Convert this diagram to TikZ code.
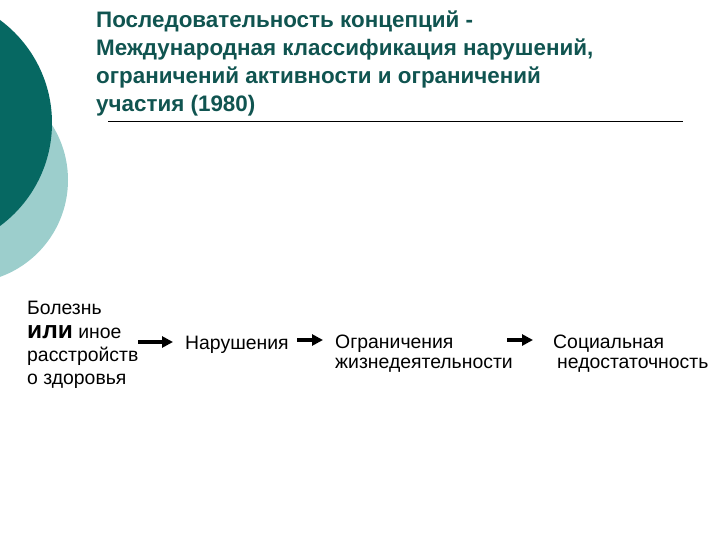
\documentclass[tikz,border=0pt]{standalone}
\usepackage{fontspec}
\setmainfont{Liberation Sans}
\usetikzlibrary{arrows.meta}
\definecolor{titleteal}{RGB}{16,84,80}
\definecolor{darkteal}{RGB}{6,104,98}
\definecolor{lightteal}{RGB}{156,206,204}
\tikzset{
  lbl/.style={inner sep=0pt, anchor=base west, font=\fontsize{19.4}{22}\selectfont},
  flowarrow/.style={line width=3.5pt, -{Triangle[length=11pt,width=11pt]}}
}
\begin{document}
\begin{tikzpicture}[x=1pt,y=-1pt]
  %%%%% background %%%%%
  \useasboundingbox (0,0) rectangle (720,540);
  \fill[lightteal] (-35,180) circle (103);
  \fill[darkteal] (-76,123) circle (128);

  %%%%% title %%%%%
  \node[inner sep=0pt, anchor=north west, align=left, text=titleteal,
        font=\bfseries\fontsize{22.4}{28}\selectfont] (title) at (96,11)
    {Последовательность концепций -\\
     Международная классификация нарушений,\\
     ограничений активности и ограничений\\
     участия (1980)};
  \draw[line width=0.8pt] (108,121) -- (683,121);

  %%%%% chain %%%%%
  \node[lbl] (cause1) at (27,314) {Болезнь};
  \node[lbl] (cause2) at (27,338) {{\bfseries\fontsize{24.5}{26}\selectfont или} иное};
  \node[lbl] (cause3) at (27,361) {расстройств};
  \node[lbl] (cause4) at (27,384) {о здоровья};

  \node[lbl] (impair) at (185,349) {Нарушения};

  \node[lbl] (activ1) at (335,348) {Ограничения};
  \node[lbl] (activ2) at (335,368) {жизнедеятельности};

  \node[lbl] (handi1) at (553,348) {Социальная};
  \node[lbl] (handi2) at (557,368) {недостаточность};

  \coordinate (a1s) at (138,342);
  \coordinate (a1e) at (173,342);
  \coordinate (a2s) at (297,340);
  \coordinate (a2e) at (323,340);
  \coordinate (a3s) at (507,340);
  \coordinate (a3e) at (533,340);
  \draw[flowarrow] (a1s) -- (a1e);
  \draw[flowarrow] (a2s) -- (a2e);
  \draw[flowarrow] (a3s) -- (a3e);
\end{tikzpicture}
\end{document}
